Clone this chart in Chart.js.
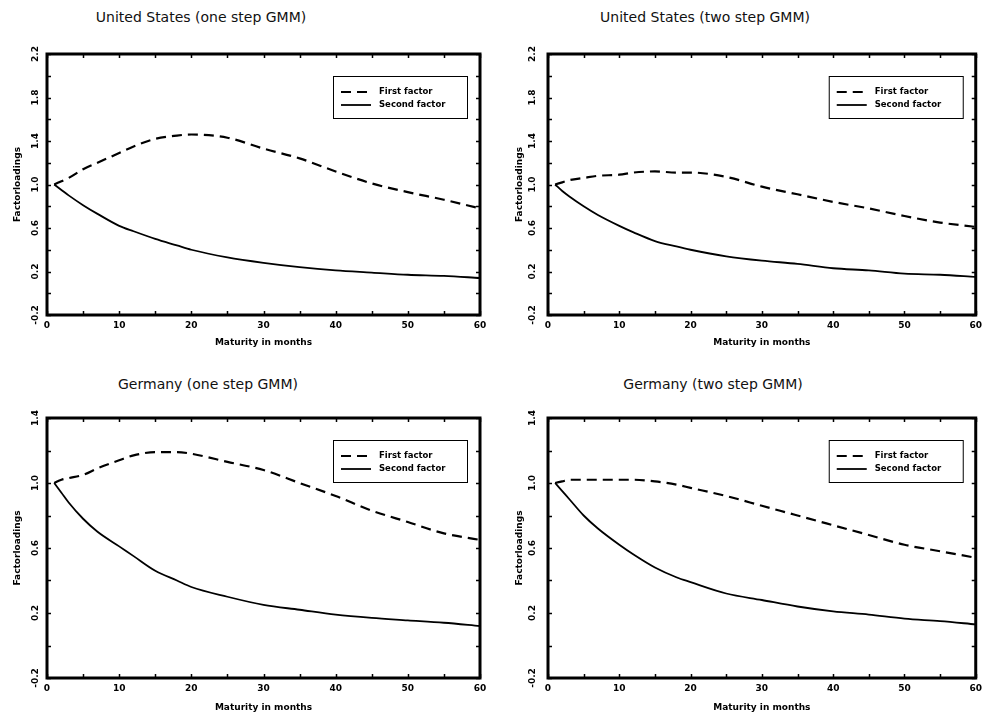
<!DOCTYPE html>
<html>
<head>
<meta charset="utf-8">
<title>Factor loadings</title>
<script src="https://cdn.jsdelivr.net/npm/chart.js@4.4.0/dist/chart.umd.min.js"></script>
<style>
  body { margin: 0; background: #fff; width: 987px; height: 720px; position: relative; overflow: hidden; }
  canvas { position: absolute; }
  .ttl { position: absolute; font: 14px 'DejaVu Sans', sans-serif; color: #111; white-space: nowrap;
         transform: translateX(-50%); letter-spacing: 0; }
</style>
</head>
<body>
<div class="ttl" style="left:201px; top:9px">United States (one step GMM)</div>
<div class="ttl" style="left:705px; top:9px">United States (two step GMM)</div>
<div class="ttl" style="left:208px; top:376px">Germany (one step GMM)</div>
<div class="ttl" style="left:713px; top:376px">Germany (two step GMM)</div>

<canvas id="usOne" width="493" height="360" style="left:0; top:0"></canvas>
<canvas id="usTwo" width="493" height="360" style="left:494px; top:0"></canvas>
<canvas id="deOne" width="493" height="360" style="left:0; top:360px"></canvas>
<canvas id="deTwo" width="493" height="360" style="left:494px; top:360px"></canvas>

<script>
const months = [1, 2, 3, 5, 7, 10, 12, 15, 18, 20, 25, 30, 35, 40, 45, 50, 55, 60];

// United States, one step GMM
const usOneFirst  = [1.00, 1.03, 1.06, 1.14, 1.20, 1.29, 1.35, 1.42, 1.45, 1.46, 1.43, 1.33, 1.24, 1.12, 1.01, 0.93, 0.86, 0.78];
const usOneSecond = [1.00, 0.95, 0.90, 0.81, 0.73, 0.62, 0.57, 0.50, 0.44, 0.40, 0.33, 0.28, 0.24, 0.21, 0.19, 0.17, 0.16, 0.14];

// United States, two step GMM
const usTwoFirst  = [1.00, 1.02, 1.04, 1.06, 1.08, 1.09, 1.11, 1.12, 1.11, 1.11, 1.07, 0.98, 0.91, 0.84, 0.78, 0.71, 0.65, 0.61];
const usTwoSecond = [1.00, 0.94, 0.89, 0.80, 0.72, 0.62, 0.56, 0.48, 0.43, 0.40, 0.34, 0.30, 0.27, 0.23, 0.21, 0.18, 0.17, 0.15];

// Germany, one step GMM
const deOneFirst  = [1.00, 1.02, 1.03, 1.05, 1.09, 1.14, 1.17, 1.19, 1.19, 1.18, 1.13, 1.08, 1.00, 0.92, 0.83, 0.76, 0.69, 0.65];
const deOneSecond = [1.00, 0.94, 0.88, 0.78, 0.70, 0.61, 0.55, 0.46, 0.40, 0.36, 0.30, 0.25, 0.22, 0.19, 0.17, 0.155, 0.14, 0.12];

// Germany, two step GMM
const deTwoFirst  = [1.00, 1.01, 1.02, 1.02, 1.02, 1.02, 1.02, 1.01, 0.99, 0.97, 0.92, 0.86, 0.80, 0.74, 0.68, 0.62, 0.58, 0.54];
const deTwoSecond = [1.00, 0.95, 0.90, 0.80, 0.72, 0.62, 0.56, 0.48, 0.42, 0.39, 0.32, 0.28, 0.24, 0.21, 0.19, 0.165, 0.15, 0.13];

// axis ticks
const xTicks = [0, 5, 10, 15, 20, 25, 30, 35, 40, 45, 50, 55, 60];
const xTickLabels = [0, 10, 20, 30, 40, 50, 60];
const yTicksUS = [-0.2, 0, 0.2, 0.4, 0.6, 0.8, 1.0, 1.2, 1.4, 1.6, 1.8, 2.0, 2.2];
const yLabelsUS = [-0.2, 0.2, 0.6, 1.0, 1.4, 1.8, 2.2];
const yTicksDE = [-0.2, 0, 0.2, 0.4, 0.6, 0.8, 1.0, 1.2, 1.4];
const yLabelsDE = [-0.2, 0.2, 0.6, 1.0, 1.4];

const seriesNames = ['First factor', 'Second factor'];

// draws the heavy frame, inward ticks on all sides, rotated y labels and the boxed legend
const framePlugin = {
  id: 'frame',
  afterDraw(chart) {
    const ctx = chart.ctx;
    const a = chart.chartArea;
    const xs = chart.scales.x, ys = chart.scales.y;
    const o = chart.options.plugins.frame;
    ctx.save();
    ctx.strokeStyle = '#000';
    ctx.fillStyle = '#000';
    ctx.lineWidth = 1.5;
    ctx.beginPath();
    xs.ticks.forEach(t => {
      const px = Math.round(xs.getPixelForValue(t.value)) + 0.5;
      ctx.moveTo(px, a.bottom); ctx.lineTo(px, a.bottom - 4);
      ctx.moveTo(px, a.top); ctx.lineTo(px, a.top + 4);
    });
    ys.ticks.forEach(t => {
      const py = Math.round(ys.getPixelForValue(t.value)) + 0.5;
      ctx.moveTo(a.left, py); ctx.lineTo(a.left + 4, py);
      ctx.moveTo(a.right, py); ctx.lineTo(a.right - 4, py);
    });
    ctx.stroke();

    // y tick labels, reading bottom to top
    ctx.font = 'bold 9px "DejaVu Sans"';
    ctx.textAlign = 'center';
    ctx.textBaseline = 'middle';
    o.yLabels.forEach(v => {
      const py = ys.getPixelForValue(v);
      ctx.save();
      ctx.translate(o.labelX, py);
      ctx.rotate(-Math.PI / 2);
      ctx.fillText(v.toFixed(1), 0, 0);
      ctx.restore();
    });

    ctx.lineWidth = 3;
    ctx.strokeRect(a.left, a.top, a.right - a.left, a.bottom - a.top);

    // legend box
    const bw = 134, bh = 42;
    const bx = a.right - 13 - bw, by = a.top + 22;
    ctx.lineWidth = 1;
    ctx.strokeRect(bx + 0.5, by + 0.5, bw, bh);
    ctx.font = 'bold 8.5px "DejaVu Sans"';
    ctx.textAlign = 'left';
    chart.data.datasets.forEach((ds, i) => {
      const ly = by + 16 + i * 13;
      ctx.save();
      ctx.lineWidth = ds.borderWidth;
      ctx.setLineDash(ds.borderDash || []);
      ctx.beginPath();
      ctx.moveTo(bx + 8, ly); ctx.lineTo(bx + 38, ly);
      ctx.stroke();
      ctx.restore();
      ctx.fillText(ds.label, bx + 46, ly);
    });
    ctx.restore();
  }
};

function makePanel(id, first, second, yMax, yTicks, yLabels, pad) {
  new Chart(document.getElementById(id), {
    type: 'line',
    data: {
      datasets: [
        {
          label: seriesNames[0],
          data: months.map((m, i) => ({ x: m, y: first[i] })),
          borderColor: '#000', borderWidth: 2.2, borderDash: [10, 6],
          pointRadius: 0, cubicInterpolationMode: 'monotone', fill: false
        },
        {
          label: seriesNames[1],
          data: months.map((m, i) => ({ x: m, y: second[i] })),
          borderColor: '#000', borderWidth: 1.8,
          pointRadius: 0, cubicInterpolationMode: 'monotone', fill: false
        }
      ]
    },
    options: {
      responsive: false,
      animation: false,
      devicePixelRatio: 1,
      layout: { padding: { top: pad.top, right: pad.right, left: 0, bottom: 0 } },
      plugins: {
        legend: { display: false },
        tooltip: { enabled: false },
        frame: { yLabels: yLabels, labelX: pad.labelX }
      },
      scales: {
        x: {
          type: 'linear', min: 0, max: 60,
          afterBuildTicks: s => { s.ticks = xTicks.map(v => ({ value: v })); },
          afterFit: s => { s.height = pad.xHeight; },
          grid: { display: false, tickLength: 0 },
          border: { display: false },
          ticks: {
            padding: 5, color: '#000', maxRotation: 0,
            font: { family: 'DejaVu Sans', size: 9, weight: 'bold' },
            callback: v => xTickLabels.includes(v) ? String(v) : ''
          },
          title: {
            display: true, text: 'Maturity in months', color: '#000',
            font: { family: 'DejaVu Sans', size: 9, weight: 'bold' },
            padding: { top: 0, bottom: pad.xTitle }
          }
        },
        y: {
          type: 'linear', min: -0.2, max: yMax,
          afterBuildTicks: s => { s.ticks = yTicks.map(v => ({ value: v })); },
          afterFit: s => { s.width = pad.yWidth; },
          grid: { display: false },
          border: { display: false },
          ticks: { display: false },
          title: {
            display: true, text: 'Factorloadings', color: '#000',
            font: { family: 'DejaVu Sans', size: 9, weight: 'bold' },
            padding: { top: pad.yTitle, bottom: 0 }
          }
        }
      }
    },
    plugins: [framePlugin]
  });
}

makePanel('usOne', usOneFirst, usOneSecond, 2.2, yTicksUS, yLabelsUS,
  { top: 54, right: 13, xHeight: 45, yWidth: 47, xTitle: 12, yTitle: 12, labelX: 36 });
makePanel('usTwo', usTwoFirst, usTwoSecond, 2.2, yTicksUS, yLabelsUS,
  { top: 54, right: 6, xHeight: 45, yWidth: 54, xTitle: 12, yTitle: 20, labelX: 39 });
makePanel('deOne', deOneFirst, deOneSecond, 1.4, yTicksDE, yLabelsDE,
  { top: 58, right: 13, xHeight: 42, yWidth: 47, xTitle: 7, yTitle: 12, labelX: 36 });
makePanel('deTwo', deTwoFirst, deTwoSecond, 1.4, yTicksDE, yLabelsDE,
  { top: 58, right: 6, xHeight: 42, yWidth: 54, xTitle: 7, yTitle: 20, labelX: 39 });
</script>
</body>
</html>
